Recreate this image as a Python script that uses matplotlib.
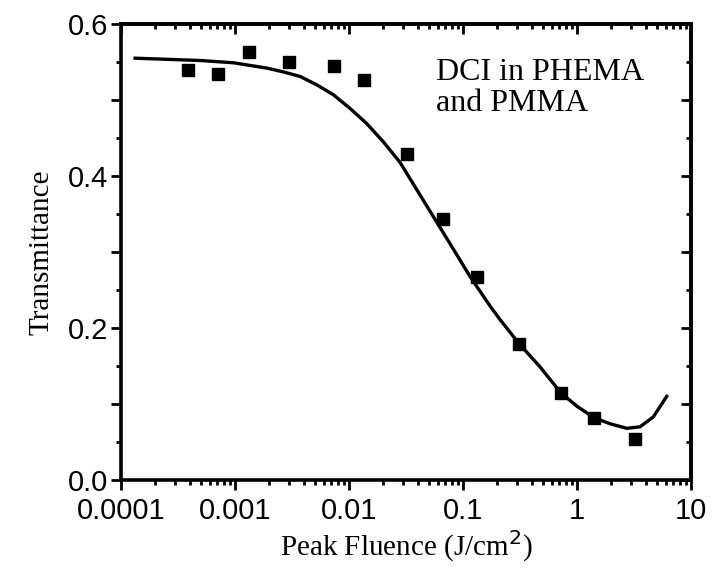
import numpy as np
import matplotlib.pyplot as plt
from matplotlib.ticker import MultipleLocator, FuncFormatter, LogLocator, NullFormatter

# measured transmittance (squares)
fluence = [0.00039, 0.00071, 0.00133, 0.0030, 0.0074, 0.0136, 0.0324,
           0.0664, 0.133, 0.312, 0.719, 1.41, 3.25]
trans = [0.539, 0.534, 0.563, 0.550, 0.545, 0.526, 0.429,
         0.343, 0.267, 0.179, 0.115, 0.082, 0.054]

# model curve
fit_fluence = [0.000133, 0.000493, 0.000967, 0.0019, 0.00265, 0.00372, 0.00521,
               0.00728, 0.0102, 0.0143, 0.020, 0.028, 0.042, 0.0769, 0.115,
               0.1726, 0.2114, 0.312, 0.473, 0.719, 1.0, 1.41, 1.95, 2.73,
               3.57, 4.67, 6.12]
fit_trans = [0.555, 0.552, 0.549, 0.542, 0.537, 0.531, 0.520,
             0.507, 0.489, 0.469, 0.445, 0.418, 0.375, 0.311, 0.268,
             0.229, 0.211, 0.179, 0.149, 0.115, 0.097, 0.082, 0.074, 0.068,
             0.070, 0.083, 0.110]

xticks = [0.0001, 0.001, 0.01, 0.1, 1, 10]

fig = plt.figure(figsize=(7.17, 5.69), dpi=100)
ax = fig.add_axes([121/717, 1 - 480/569, 570/717, 456/569])

ax.plot(fit_fluence, fit_trans, color="black", lw=2.4, solid_joinstyle="round")
ax.plot(fluence, trans, ls="none", marker="s", ms=8.5, color="black")

ax.set_xscale("log")
ax.set_xlim(0.0001, 10)
ax.set_ylim(0, 0.6)

ax.set_xticks(xticks)
ax.xaxis.set_major_formatter(FuncFormatter(lambda v, p: "%g" % v))
ax.xaxis.set_minor_locator(LogLocator(base=10, subs=np.arange(2, 10)))
ax.xaxis.set_minor_formatter(NullFormatter())

ax.yaxis.set_major_locator(MultipleLocator(0.1))
ax.yaxis.set_minor_locator(MultipleLocator(0.05))
ax.yaxis.set_major_formatter(FuncFormatter(
    lambda v, p: "%.1f" % v if round(v * 10) % 2 == 0 else ""))

for s in ax.spines.values():
    s.set_linewidth(2.6)

ax.tick_params(which="major", direction="out", length=7, width=2,
               labelsize=21, pad=2)
ax.tick_params(axis="x", which="major", pad=5)
ax.tick_params(which="minor", direction="out", length=3.5, width=2)
for lab in ax.get_xticklabels() + ax.get_yticklabels():
    lab.set_fontfamily("Liberation Sans")

# mirrored ticks pointing inward on top and right
top = ax.secondary_xaxis("top")
top.set_xticks(xticks)
top.xaxis.set_minor_locator(LogLocator(base=10, subs=np.arange(2, 10)))
top.tick_params(which="major", direction="in", length=7, width=2, labeltop=False)
top.tick_params(which="minor", direction="in", length=3.5, width=2)
top.spines["top"].set_linewidth(2.6)

right = ax.secondary_yaxis("right")
right.yaxis.set_major_locator(MultipleLocator(0.1))
right.yaxis.set_minor_locator(MultipleLocator(0.05))
right.tick_params(which="major", direction="in", length=7, width=2, labelright=False)
right.tick_params(which="minor", direction="in", length=3.5, width=2)
right.spines["right"].set_linewidth(2.6)

ax.set_xlabel("Peak Fluence (J/cm$^2$)", fontsize=21, family="Liberation Serif", labelpad=3)
ax.set_ylabel("Transmittance", fontsize=21, family="Liberation Serif", labelpad=10)

ax.text(0.552, 0.925, "DCI in PHEMA\nand PMMA", transform=ax.transAxes,
        fontsize=23, family="Liberation Serif", va="top", ha="left", linespacing=1.1)

fig.savefig("out.png", dpi=100)
